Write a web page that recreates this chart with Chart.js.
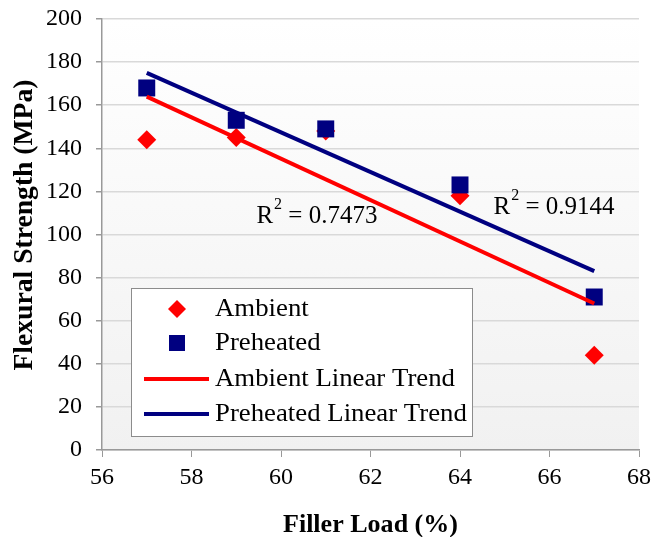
<!DOCTYPE html>
<html>
<head>
<meta charset="utf-8">
<script src="https://cdn.jsdelivr.net/npm/chart.js@4/dist/chart.umd.min.js"></script>
<style>
  html, body { margin: 0; padding: 0; background: #ffffff; }
  #wrap { width: 652px; height: 537px; }
</style>
</head>
<body>
<div id="wrap"><canvas id="c" width="652" height="537"></canvas></div>
<script>
// ---- data ----
const fillerLoad = [57, 59, 61, 64, 67];
const ambient    = [144, 145, 148, 118, 44];
const preheated  = [168, 153, 149, 123, 71];
// linear trend lines (end points)
const trendX         = [57, 67];
const ambientTrend   = [164, 68];
const preheatedTrend = [175, 83];
const xTicks = [56, 58, 60, 62, 64, 66, 68];
const yTicks = [0, 20, 40, 60, 80, 100, 120, 140, 160, 180, 200];
const r2Values = ['0.7473', '0.9144'];
const r2Anchors = [{ x: 59.45, y: 105.5 }, { x: 64.75, y: 109.3 }];
const legendLabels = ['Ambient', 'Preheated', 'Ambient Linear Trend', 'Preheated Linear Trend'];
const xTitle = 'Filler Load (%)';
const yTitle = 'Flexural Strength (MPa)';

const RED = '#ff0000', NAVY = '#000080';
const SERIF = '"Liberation Serif", "Times New Roman", serif';

const toXY = (xs, ys) => xs.map((x, i) => ({ x: x, y: ys[i] }));

// draw text horizontally scaled so that it spans targetW pixels
function fitText(ctx, text, x, y, targetW, align) {
  const w = ctx.measureText(text).width;
  const s = targetW / w;
  ctx.save();
  ctx.translate(x, y);
  ctx.scale(s, 1);
  ctx.textAlign = 'left';
  let ox = 0;
  if (align === 'center') ox = -w / 2;
  ctx.fillText(text, ox, 0);
  ctx.restore();
}

const bgPlugin = {
  id: 'plotBg',
  beforeDraw(chart) {
    const { ctx, chartArea: a } = chart;
    const g = ctx.createLinearGradient(0, a.top, 0, a.bottom);
    g.addColorStop(0, '#ffffff');
    g.addColorStop(1, '#f1f1f1');
    ctx.save();
    ctx.fillStyle = g;
    ctx.fillRect(a.left, a.top, a.right - a.left, a.bottom - a.top);
    ctx.restore();
  }
};

const overlayPlugin = {
  id: 'overlay',
  afterDraw(chart) {
    const { ctx } = chart;
    const xs = chart.scales.x, ys = chart.scales.y;
    ctx.save();
    ctx.fillStyle = '#000';
    // R^2 labels
    r2Values.forEach((v, i) => {
      const px = xs.getPixelForValue(r2Anchors[i].x);
      const py = ys.getPixelForValue(r2Anchors[i].y);
      ctx.textBaseline = 'alphabetic';
      ctx.textAlign = 'left';
      ctx.font = '25px ' + SERIF;
      ctx.fillText('R', px, py);
      const wR = ctx.measureText('R').width;
      ctx.font = '16px ' + SERIF;
      ctx.fillText('2', px + wR + 1, py - 14);
      const w2 = ctx.measureText('2').width;
      ctx.font = '25px ' + SERIF;
      ctx.fillText(' = ' + v, px + wR + w2 + 1, py);
    });

    // legend box
    const bx = 131.5, by = 288.5, bw = 341, bh = 148;
    ctx.fillStyle = '#ffffff';
    ctx.fillRect(bx, by, bw, bh);
    ctx.strokeStyle = '#8c8c8c';
    ctx.lineWidth = 1;
    ctx.strokeRect(bx, by, bw, bh);
    const rowsY = [309, 343, 379, 414];
    const kinds = ['diamond', 'square', 'line', 'line'];
    const colors = [RED, NAVY, RED, NAVY];
    const mx = 177;
    legendLabels.forEach((label, i) => {
      const y = rowsY[i];
      ctx.fillStyle = colors[i];
      ctx.strokeStyle = colors[i];
      if (kinds[i] === 'diamond') {
        ctx.beginPath();
        ctx.moveTo(mx, y - 9); ctx.lineTo(mx + 9, y); ctx.lineTo(mx, y + 9); ctx.lineTo(mx - 9, y);
        ctx.closePath(); ctx.fill();
      } else if (kinds[i] === 'square') {
        ctx.fillRect(mx - 8, y - 8, 16, 16);
      } else {
        ctx.lineWidth = 4;
        ctx.beginPath(); ctx.moveTo(144, y); ctx.lineTo(209, y); ctx.stroke();
      }
      ctx.fillStyle = '#000';
      ctx.font = '26px ' + SERIF;
      ctx.textAlign = 'left';
      ctx.textBaseline = 'middle';
      const w = ctx.measureText(label).width;
      fitText(ctx, label, 215, y, w * 1.03, 'left');
    });

    // x axis title
    ctx.fillStyle = '#000';
    ctx.font = 'bold 26px ' + SERIF;
    ctx.textBaseline = 'alphabetic';
    fitText(ctx, xTitle, 370.5, 532, 175, 'center');

    // y axis title
    ctx.translate(32, 225);
    ctx.rotate(-Math.PI / 2);
    ctx.font = 'bold 28px ' + SERIF;
    ctx.textBaseline = 'alphabetic';
    fitText(ctx, yTitle, 0, 0, 291, 'center');
    ctx.restore();
  }
};

new Chart(document.getElementById('c'), {
  type: 'scatter',
  data: {
    datasets: [
      {
        label: legendLabels[2], type: 'line', data: toXY(trendX, ambientTrend),
        borderColor: RED, borderWidth: 4, pointRadius: 0, fill: false, order: 0
      },
      {
        label: legendLabels[3], type: 'line', data: toXY(trendX, preheatedTrend),
        borderColor: NAVY, borderWidth: 4, pointRadius: 0, fill: false, order: 0
      },
      {
        label: legendLabels[1], data: toXY(fillerLoad, preheated),
        pointStyle: 'rect', pointRadius: 12, backgroundColor: NAVY, borderColor: NAVY,
        borderWidth: 0, order: 1
      },
      {
        label: legendLabels[0], data: toXY(fillerLoad, ambient),
        pointStyle: 'rectRot', pointRadius: 9.5, backgroundColor: RED, borderColor: RED,
        borderWidth: 0, order: 2
      }
    ]
  },
  options: {
    responsive: false,
    animation: false,
    devicePixelRatio: 1,
    layout: { padding: { top: 19, right: 13, left: 0, bottom: 0 } },
    plugins: {
      legend: { display: false },
      tooltip: { enabled: false }
    },
    scales: {
      x: {
        type: 'linear', min: 56, max: 68,
        afterBuildTicks(s) { s.ticks = xTicks.map(v => ({ value: v })); },
        afterFit(s) { s.height = 87; s.paddingLeft = 0; s.paddingRight = 0; },
        grid: { drawOnChartArea: false, tickLength: 7, tickColor: '#999999', color: '#999999' },
        border: { color: '#999999', width: 1.5 },
        ticks: { font: { family: SERIF, size: 24 }, color: '#000', padding: 6, maxRotation: 0 }
      },
      y: {
        type: 'linear', min: 0, max: 200,
        afterBuildTicks(s) { s.ticks = yTicks.map(v => ({ value: v })); },
        afterFit(s) { s.width = 102; s.paddingTop = 0; s.paddingBottom = 0; },
        grid: { color: '#d9d9d9', lineWidth: 1.5, tickLength: 6, tickColor: '#999999' },
        border: { color: '#999999', width: 1.5 },
        ticks: { font: { family: SERIF, size: 24 }, color: '#000', padding: 14 }
      }
    }
  },
  plugins: [bgPlugin, overlayPlugin]
});
</script>
</body>
</html>
